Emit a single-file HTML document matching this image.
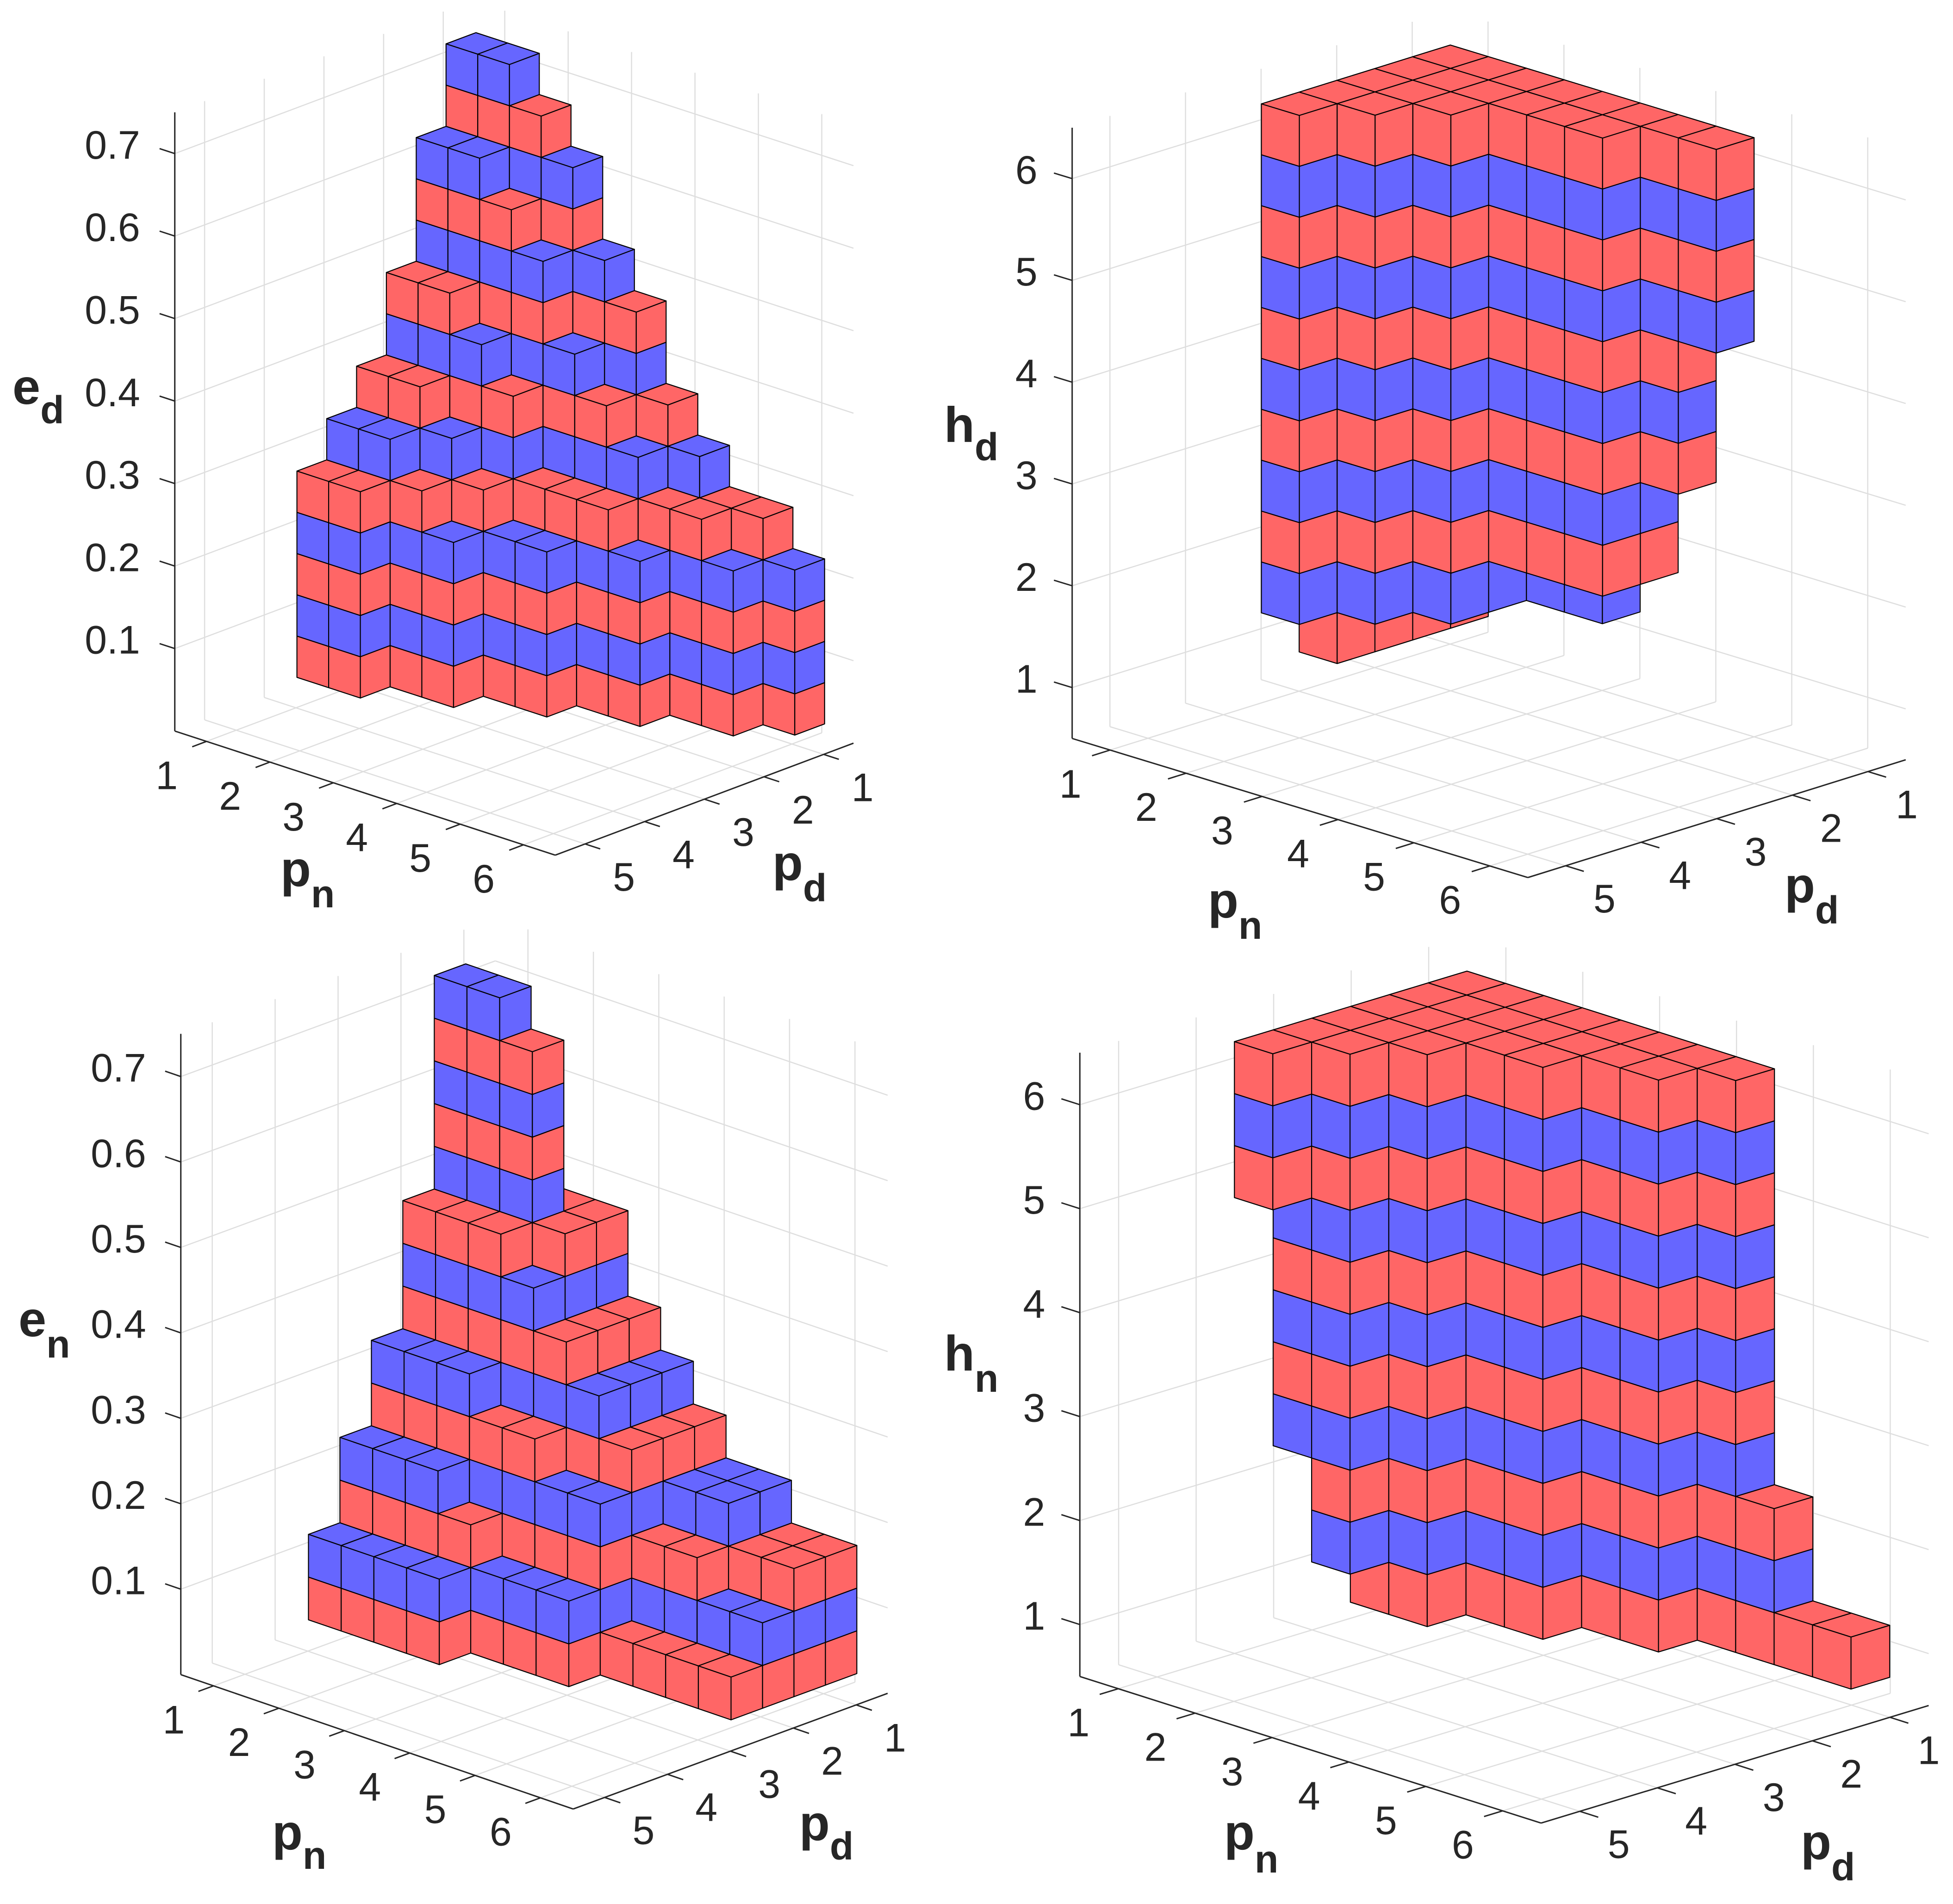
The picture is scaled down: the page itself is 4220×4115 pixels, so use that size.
<!DOCTYPE html>
<html><head><meta charset="utf-8">
<style>
html,body{margin:0;padding:0;background:#fff;}
svg{display:block;}
text{font-family:"Liberation Sans",Arial,sans-serif;fill:#262626;}
.tl{font-size:86px;}
.tt{font-size:108px;font-weight:bold;}
.tt tspan{font-size:84px;}
</style></head>
<body>
<svg id="fig" xmlns="http://www.w3.org/2000/svg" width="4220" height="4115" viewBox="0 0 4220 4115">
<rect x="0" y="0" width="4220" height="4115" fill="#ffffff"/>
<g id="grids"></g>
<g id="axes"></g>
<g id="vox"></g>
<g id="labels"></g>
<g>
<text class="tt" x="27" y="873">e<tspan dy="42">d</tspan></text>
<text class="tt" x="606" y="1915">p<tspan dy="46">n</tspan></text>
<text class="tt" x="1669" y="1902">p<tspan dy="46">d</tspan></text>
<text class="tt" x="2040" y="955">h<tspan dy="40">d</tspan></text>
<text class="tt" x="2610" y="1983">p<tspan dy="46">n</tspan></text>
<text class="tt" x="3856" y="1950">p<tspan dy="46">d</tspan></text>
<text class="tt" x="40" y="2888">e<tspan dy="46">n</tspan></text>
<text class="tt" x="588" y="3997">p<tspan dy="42">n</tspan></text>
<text class="tt" x="1727" y="3977">p<tspan dy="42">d</tspan></text>
<text class="tt" x="2040" y="2962">h<tspan dy="46">n</tspan></text>
<text class="tt" x="2645" y="3997">p<tspan dy="50">n</tspan></text>
<text class="tt" x="3891" y="4018">p<tspan dy="46">d</tspan></text>
</g>
</svg>
<script>
// ---- data ----
const pnTicks = [1, 2, 3, 4, 5, 6];
const pdTicks = [1, 2, 3, 4, 5];
const eTicks = [0.1, 0.2, 0.3, 0.4, 0.5, 0.6, 0.7];
const eTickLabels = ['0.1', '0.2', '0.3', '0.4', '0.5', '0.6', '0.7'];
const hTicks = [1, 2, 3, 4, 5, 6];
const hTickLabels = ['1', '2', '3', '4', '5', '6'];
const pnTickLabels = ['1', '2', '3', '4', '5', '6'];
const pdTickLabels = ['1', '2', '3', '4', '5'];
// cell centres (rows = pn index, columns = pd index)
const pnCenters = [1.5, 2, 2.5, 3, 3.5, 4, 4.5, 5, 5.5, 6, 6.5];
const pdCenters = [1.5, 2, 2.5, 3, 3.5, 4];
// e_d voxels: top value per cell, common base
const edBase = 0.05;
const edTop = [
  [0.75, 0.65, 0.5, 0.4, 0.35, 0.3],
  [0.75, 0.65, 0.5, 0.4, 0.35, 0.3],
  [0.7, 0.6, 0.45, 0.35, 0.3],
  [0.65, 0.55, 0.4, 0.3, 0.25],
  [0.55, 0.45, 0.3, 0.25],
  [0.5, 0.4, 0.3, 0.25],
  [0.4, 0.35, 0.3],
  [0.35, 0.3, 0.25],
  [0.3, 0.3],
  [0.3, 0.25],
  [0.25]
];
// e_n voxels
const enBase = 0.05;
const enTop = [
  [0.6, 0.75, 0.5, 0.35, 0.25, 0.15],
  [0.6, 0.75, 0.5, 0.35, 0.25, 0.15],
  [0.5, 0.7, 0.5, 0.35, 0.25, 0.15],
  [0.5, 0.5, 0.45, 0.3, 0.2, 0.15],
  [0.4, 0.4, 0.4, 0.3, 0.15],
  [0.35, 0.35, 0.35, 0.25, 0.15],
  [0.3, 0.3, 0.3, 0.25, 0.15],
  [0.25, 0.25, 0.2, 0.1],
  [0.25, 0.25, 0.2, 0.1],
  [0.2, 0.2, 0.15, 0.1],
  [0.2, 0.2, 0.15, 0.1]
];
// h_d voxels: bottom and top per cell
const hdBottom = [
  [1.0, 1.0, 1.0, 1.0, 1.5],
  [1.5, 1.5, 1.5, 1.5],
  [1.5, 1.5, 1.5],
  [1.5, 2.0],
  [1.5, 2.0],
  [2.0, 2.0],
  [3.0],
  [4.5]
];
const hdTop = [
  [6.5, 6.5, 6.5, 6.5, 6.5],
  [6.5, 6.5, 6.5, 6.5],
  [6.5, 6.5, 6.5],
  [6.5, 6.5],
  [6.5, 6.5],
  [6.5, 6.5],
  [6.5],
  [6.5]
];
// h_n voxels
const hnBottom = [
  [2.5, 2.5, 2.5, 2.5, 2.5, 5.0],
  [1.0, 1.0, 1.0, 1.0, 1.5],
  [1.0, 1.0, 1.0, 1.0],
  [1.0, 1.0, 1.0],
  [1.0, 1.0, 1.0],
  [1.0, 1.0],
  [1.0, 1.0],
  [1.0],
  [1.0],
  [1.0],
  [1.0]
];
const hnTop = [
  [6.5, 6.5, 6.5, 6.5, 6.5, 6.5],
  [6.5, 6.5, 6.5, 6.5, 6.5],
  [6.5, 6.5, 6.5, 6.5],
  [6.5, 6.5, 6.5],
  [6.5, 6.5, 6.5],
  [6.5, 6.5],
  [6.5, 6.5],
  [6.5],
  [2.5],
  [1.5],
  [1.5]
];

// ---- geometry of the four axes (screen layout, not data) ----
const axesCfg = [
  {id:'ed', O:[377.7,1580], U:[137.0,44.7], V:[-128.9,48.4], W:1783, z0:0, z1:0.75, dz:0.05, zt:eTicks, ztl:eTickLabels, top:edTop, bottom:null, base:edBase},
  {id:'hd', O:[2316.7,1596], U:[164.1,50.1], V:[-163.3,50.9], W:220, z0:0.5, z1:6.5, dz:0.5, zt:hTicks, ztl:hTickLabels, top:hdTop, bottom:hdBottom, base:null},
  {id:'en', O:[390.7,3619.3], U:[141.3,48.4], V:[-135.9,50.0], W:1846.6, z0:0, z1:0.75, dz:0.05, zt:eTicks, ztl:eTickLabels, top:enTop, bottom:null, base:enBase},
  {id:'hn', O:[2333.3,3623.3], U:[166.1,52.8], V:[-167.5,50.8], W:224.7, z0:0.5, z1:6.5, dz:0.5, zt:hTicks, ztl:hTickLabels, top:hnTop, bottom:hnBottom, base:null}
];
const NS = 'http://www.w3.org/2000/svg';
const RED = '#ff6666', BLUE = '#6666ff';

function proj(P, pn, pd, z) {
  const a = pn - 0.5, b = pd - 5.5, c = z - P.z0;
  return [P.O[0] + a * P.U[0] + b * P.V[0], P.O[1] + a * P.U[1] + b * P.V[1] - c * P.W];
}
function pstr(pts) { return pts.map(p => p[0].toFixed(1) + ',' + p[1].toFixed(1)).join(' '); }
function line(parent, p, q, stroke, w) {
  const l = document.createElementNS(NS, 'line');
  l.setAttribute('x1', p[0].toFixed(1)); l.setAttribute('y1', p[1].toFixed(1));
  l.setAttribute('x2', q[0].toFixed(1)); l.setAttribute('y2', q[1].toFixed(1));
  l.setAttribute('stroke', stroke); l.setAttribute('stroke-width', w);
  parent.appendChild(l);
  return l;
}
function label(parent, x, y, s, anchor) {
  const t = document.createElementNS(NS, 'text');
  t.setAttribute('x', x.toFixed(1)); t.setAttribute('y', y.toFixed(1));
  t.setAttribute('class', 'tl'); t.setAttribute('text-anchor', anchor);
  t.setAttribute('dominant-baseline', 'central');
  t.textContent = s;
  parent.appendChild(t);
  return t;
}

const gGrid = document.getElementById('grids');
const gAxes = document.getElementById('axes');
const gVox = document.getElementById('vox');
const gLab = document.getElementById('labels');
const GRID = '#dedede', AX = '#262626';

axesCfg.forEach(P => {
  pnTicks.forEach(t => {
    const a = line(gGrid, proj(P, t, 0.5, P.z0), proj(P, t, 5.5, P.z0), GRID, 2.5);
    
    
    const b = line(gGrid, proj(P, t, 0.5, P.z0), proj(P, t, 0.5, P.z1), GRID, 2.5);
    
    
  });
  pdTicks.forEach(t => {
    const a = line(gGrid, proj(P, 0.5, t, P.z0), proj(P, 6.5, t, P.z0), GRID, 2.5);
    
    
    const b = line(gGrid, proj(P, 0.5, t, P.z0), proj(P, 0.5, t, P.z1), GRID, 2.5);
    
    
  });
  P.zt.forEach(t => {
    const a = line(gGrid, proj(P, 0.5, 0.5, t), proj(P, 0.5, 5.5, t), GRID, 2.5);
    
    
    const b = line(gGrid, proj(P, 0.5, 0.5, t), proj(P, 6.5, 0.5, t), GRID, 2.5);
    
    
  });
  const za = line(gAxes, proj(P, 0.5, 5.5, P.z0), proj(P, 0.5, 5.5, P.z1), AX, 3);
  
  
  const xa = line(gAxes, proj(P, 0.5, 5.5, P.z0), proj(P, 6.5, 5.5, P.z0), AX, 3);
  
  
  const ya = line(gAxes, proj(P, 6.5, 5.5, P.z0), proj(P, 6.5, 0.5, P.z0), AX, 3);
  
  
  pnTicks.forEach((t, n) => {
    const p = proj(P, t, 5.5, P.z0);
    const q = [p[0] + 0.24 * P.V[0], p[1] + 0.24 * P.V[1]];
    const tk = line(gAxes, p, q, AX, 3);
    
    
    const lb = label(gLab, p[0] - 86, p[1] + 74, pnTickLabels[n], 'middle');
    
    
  });
  pdTicks.forEach((t, n) => {
    const p = proj(P, 6.5, t, P.z0);
    const q = [p[0] + 0.24 * P.U[0], p[1] + 0.24 * P.U[1]];
    const tk = line(gAxes, p, q, AX, 3);
    
    
    const lb = label(gLab, p[0] + 84, p[1] + 72, pdTickLabels[n], 'middle');
    
    
  });
  P.zt.forEach((t, n) => {
    const p = proj(P, 0.5, 5.5, t);
    const q = [p[0] - 0.24 * P.U[0], p[1] - 0.24 * P.U[1]];
    const tk = line(gAxes, p, q, AX, 3);
    
    
    const lb = label(gLab, p[0] - 75, p[1] - 18, P.ztl[n], 'end');
    
    
  });

  const occ = new Set();
  const cubes = [];
  P.top.forEach((row, i) => {
    row.forEach((zt, j) => {
      const zb = P.bottom ? P.bottom[i][j] : P.base;
      const k0 = Math.round((zb - P.z0) / P.dz);
      const k1 = Math.round((zt - P.z0) / P.dz);
      for (let k = k0; k < k1; k++) {
        occ.add(i + ',' + j + ',' + k);
        cubes.push([i, j, k]);
      }
    });
  });
  cubes.sort((a, b) => (a[0] + a[1] + a[2]) - (b[0] + b[1] + b[2]) || a[2] - b[2] || a[0] - b[0]);
  const g = document.createElementNS(NS, 'g');
  
  
  g.setAttribute('stroke', '#000');
  g.setAttribute('stroke-width', '2.2');
  g.setAttribute('stroke-linejoin', 'round');
  gVox.appendChild(g);
  cubes.forEach(([i, j, k]) => {
    const pl = pnCenters[i] - 0.25, ph = pnCenters[i] + 0.25;
    const dl = pdCenters[j] - 0.25, dh = pdCenters[j] + 0.25;
    const zl = P.z0 + k * P.dz, zh = zl + P.dz;
    const fill = (k % 2 === 1) ? RED : BLUE;
    const faces = [];
    if (!occ.has(i + ',' + j + ',' + (k + 1)))
      faces.push([proj(P, pl, dl, zh), proj(P, ph, dl, zh), proj(P, ph, dh, zh), proj(P, pl, dh, zh)]);
    if (!occ.has(i + ',' + (j + 1) + ',' + k))
      faces.push([proj(P, pl, dh, zl), proj(P, ph, dh, zl), proj(P, ph, dh, zh), proj(P, pl, dh, zh)]);
    if (!occ.has((i + 1) + ',' + j + ',' + k))
      faces.push([proj(P, ph, dl, zl), proj(P, ph, dh, zl), proj(P, ph, dh, zh), proj(P, ph, dl, zh)]);
    faces.forEach(f => {
      const poly = document.createElementNS(NS, 'polygon');
      poly.setAttribute('points', pstr(f));
      poly.setAttribute('fill', fill);
      
      
      g.appendChild(poly);
    });
  });
});
</script>
</body></html>
